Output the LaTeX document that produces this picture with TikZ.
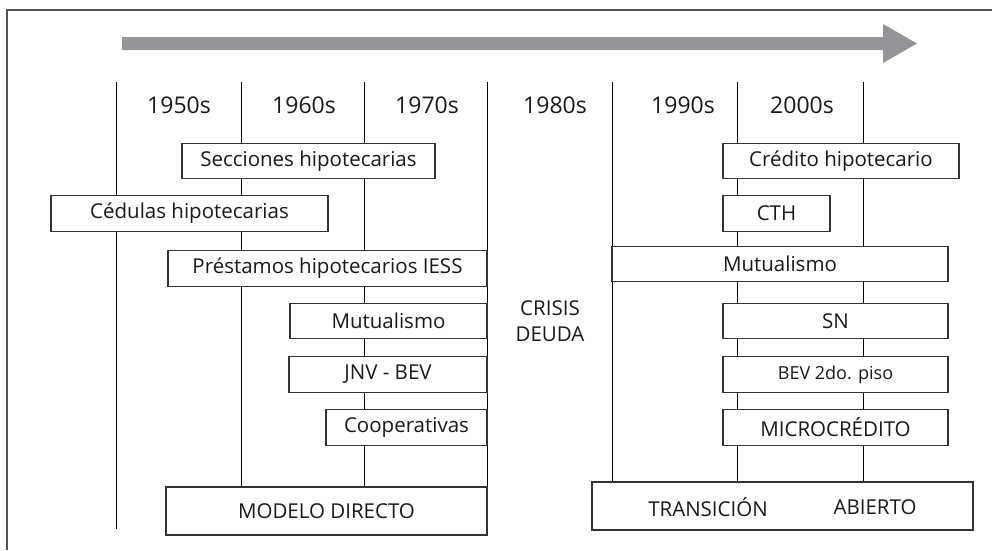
\documentclass[tikz,border=0pt]{standalone}
\usepackage{fontspec}
\setmainfont{Open Sans}
\usetikzlibrary{backgrounds}

\definecolor{linea}{HTML}{333333}
\definecolor{flecha}{HTML}{939598}
\definecolor{texto}{HTML}{1A1A1A}

\begin{document}
\begin{tikzpicture}[x=1pt,y=-1pt,line width=1.1pt]
  \tikzstyle{caja}=[draw=linea,fill=white,inner sep=0pt,minimum height=35.5pt,text=texto,font=\fontsize{20.5}{24}\selectfont]
  \tikzstyle{decada}=[text=texto,font=\fontsize{23}{27}\selectfont]
  \tikzstyle{rotulo}=[text=texto,font=\fontsize{20.5}{26}\selectfont,align=center]

  \useasboundingbox (0,0) rectangle (992,550);

  % marco y flecha del tiempo
  \draw[draw=linea!85,line width=1.3pt] (992,10) -- (7,10) -- (7,550);
  \fill[flecha] (122,37) -- (883,37) -- (883,24) -- (917,43.5) -- (883,63) -- (883,50) -- (122,50) -- cycle;

  % decadas
  \node[decada] (y50) at (179,105) {1950s};
  \node[decada] (y60) at (304,105) {1960s};
  \node[decada] (y70) at (427,105) {1970s};
  \node[decada] (y80) at (555,105) {1980s};
  \node[decada] (y90) at (683,105) {1990s};
  \node[decada] (y00) at (802,105) {2000s};

  \foreach \i/\x in {0/116,1/241,2/364,3/487,4/612,5/737,6/863}
    \coordinate (d\i) at (\x,82);
  \coordinate (e0) at (116,529);

  % modelo directo
  \node[caja,minimum width=253pt] (secc)   at (308.5,161)   {Secciones hipotecarias};
  \node[caja,minimum width=277pt] (ced)    at (189.5,213.5) {Cédulas hipotecarias};
  \node[caja,minimum width=319pt] (prest)  at (327.5,268.5) {Préstamos hipotecarios IESS};
  \node[caja,minimum width=197pt] (mutL)   at (388.5,321)   {Mutualismo};
  \node[caja,minimum width=198pt] (jnv)    at (388,374.5)   {JNV - BEV};
  \node[caja,minimum width=161pt] (coop)   at (406.5,427.5) {Cooperativas};
  \node[caja,minimum width=321pt,minimum height=48pt] (directo) at (326.5,511) {MODELO DIRECTO};

  \node[rotulo] (crisis) at (550,321) {CRISIS\\DEUDA};

  % transicion y modelo abierto
  \node[caja,minimum width=236pt] (cred)   at (841,161)     {Crédito hipotecario};
  \node[caja,minimum width=107pt] (cth)    at (776.5,213.5) {CTH};
  \node[caja,minimum width=336pt] (mutR)   at (780,264)     {Mutualismo};
  \node[caja,minimum width=225pt] (sn)     at (835.5,321)   {SN};
  \node[caja,minimum width=225pt,font=\fontsize{18}{22}\selectfont] (bev) at (835.5,374.5) {BEV 2do. piso};
  \node[caja,minimum width=225pt] (micro)  at (835.5,427.5) {MICROCRÉDITO};
  \node[caja,minimum width=381pt,minimum height=48pt] (abierto) at (782.5,506) {};
  \node[rotulo] (trans) at (708,507) {TRANSICIÓN};
  \node[rotulo] (abi)   at (875,507) {ABIERTO};

  \begin{scope}[on background layer,draw=linea]
    \draw (d0) -- (e0);
    \foreach \i in {1,2,3}
      \draw (d\i) -- (d\i |- directo.north);
    \foreach \i in {4,5,6}
      \draw (d\i) -- (d\i |- abierto.north);
  \end{scope}
\end{tikzpicture}
\end{document}
